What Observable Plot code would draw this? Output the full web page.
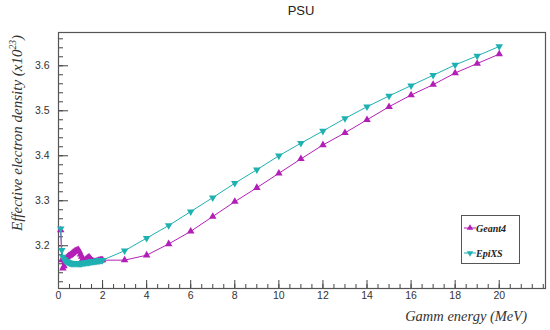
<!DOCTYPE html>
<html>
<head>
<meta charset="utf-8">
<script src="https://cdn.jsdelivr.net/npm/d3@7"></script>
<script src="https://cdn.jsdelivr.net/npm/@observablehq/plot@0.6"></script>
<style>
  html, body { margin: 0; padding: 0; background: #fff; }
  #wrap { position: relative; width: 550px; height: 330px; overflow: hidden; font-family: "Liberation Sans", Arial, sans-serif; }
  #wrap svg { position: absolute; left: 0; top: 0; }
  .title { position: absolute; left: 301px; top: 3px; transform: translateX(-50%); font-size: 13px; color: #222; }
  .ylab { position: absolute; left: 17px; top: 133px; transform: translate(-50%, -50%) rotate(-90deg); white-space: nowrap;
          font-family: "Liberation Serif", "Times New Roman", serif; font-style: italic; font-size: 15px; color: #333; }
  .ylab sup { font-size: 9.5px; vertical-align: 6px; }
  .xlab { position: absolute; right: 23px; top: 308px; white-space: nowrap;
          font-family: "Liberation Serif", "Times New Roman", serif; font-style: italic; font-size: 14.5px; color: #333; }
  .legend { position: absolute; left: 461px; top: 215px; width: 59px; height: 49px; border: 1px solid #555; background: #fff; box-sizing: border-box; }
  .legend .row { position: absolute; left: 14px; font-family: "Liberation Serif", "Times New Roman", serif; font-style: italic; font-weight: bold; font-size: 10px; color: #222; }
</style>
</head>
<body>
<div id="wrap"></div>
<script>
// ---- data ----
const geant4X = [0.10,0.15,0.20,0.25,0.30,0.35,0.40,0.45,0.50,0.55,0.60,0.65,0.70,0.75,0.80,0.85,0.90,0.95,1.00,1.05,1.10,1.15,1.20,1.25,1.30,1.35,1.40,1.45,1.50,1.55,1.60,1.65,1.70,1.75,1.80,1.85,1.90,1.95,2.00,3,4,5,6,7,8,9,10,11,12,13,14,15,16,17,18,19,20];
const geant4Y = [3.235,3.168,3.150,3.155,3.165,3.172,3.175,3.177,3.178,3.180,3.182,3.184,3.186,3.188,3.189,3.190,3.191,3.187,3.181,3.176,3.171,3.168,3.167,3.170,3.172,3.174,3.174,3.171,3.168,3.166,3.165,3.164,3.165,3.166,3.167,3.167,3.168,3.168,3.168,3.168,3.179,3.204,3.232,3.265,3.298,3.329,3.361,3.393,3.424,3.451,3.480,3.509,3.535,3.558,3.584,3.605,3.626];
const epixsX = [0.10,0.15,0.20,0.25,0.30,0.35,0.40,0.45,0.50,0.55,0.60,0.65,0.70,0.75,0.80,0.85,0.90,0.95,1.00,1.05,1.10,1.15,1.20,1.25,1.30,1.35,1.40,1.45,1.50,1.55,1.60,1.65,1.70,1.75,1.80,1.85,1.90,1.95,2.00,3,4,5,6,7,8,9,10,11,12,13,14,15,16,17,18,19,20];
const epixsY = [3.238,3.190,3.175,3.170,3.167,3.165,3.164,3.163,3.162,3.162,3.161,3.161,3.161,3.161,3.161,3.161,3.161,3.161,3.161,3.161,3.162,3.162,3.162,3.163,3.163,3.163,3.164,3.164,3.165,3.165,3.165,3.166,3.166,3.167,3.167,3.167,3.168,3.168,3.168,3.189,3.217,3.245,3.276,3.307,3.339,3.369,3.400,3.428,3.455,3.483,3.509,3.533,3.556,3.579,3.602,3.622,3.643];
const xMajorTicks = [0,2,4,6,8,10,12,14,16,18,20];
const xMinorTicks = d3.range(0, 22.01, 0.5);
const yMajorTicks = [3.2,3.3,3.4,3.5,3.6];
const yMinorTicks = d3.range(3.12, 3.671, 0.02);

const seriesNames = ["Geant4", "EpiXS"];
const seriesColors = ["#b31fb6", "#1fb0b2"];

const geant4 = geant4X.map((x, i) => ({x, y: geant4Y[i]}));
const epixs = epixsX.map((x, i) => ({x, y: epixsY[i]}));

const W = 550, H = 330;
const mL = 58, mR = 5, mT = 32, mB = 42;
const innerW = W - mL - mR, innerH = H - mT - mB;

const chart = Plot.plot({
  width: W, height: H,
  marginLeft: mL, marginRight: mR, marginTop: mT, marginBottom: mB,
  style: {fontFamily: "'Liberation Sans', Arial, sans-serif", fontSize: "10.5px", color: "#333", background: "transparent"},
  x: {domain: [0, 22.1], axis: null},
  y: {domain: [3.105, 3.674], axis: null},
  marks: [
    // ticks inside frame (ROOT style)
    Plot.tickX(xMinorTicks, {x: d => d, stroke: "#444", insetTop: innerH - 4}),
    Plot.tickX(xMajorTicks, {x: d => d, stroke: "#444", insetTop: innerH - 8}),
    Plot.tickY(yMinorTicks, {y: d => d, stroke: "#444", insetRight: innerW - 5}),
    Plot.tickY(yMajorTicks, {y: d => d, stroke: "#444", insetRight: innerW - 10}),
    Plot.axisX(xMajorTicks, {tickSize: 0, tickPadding: 3, fill: "#333", tickFormat: d => d, label: null}),
    Plot.axisY(yMajorTicks, {tickSize: 0, tickPadding: 9, fill: "#333", tickFormat: d => d.toFixed(1), label: null}),
    Plot.frame({stroke: "#555", strokeWidth: 1.2}),
    // series
    Plot.line(geant4, {x: "x", y: "y", stroke: seriesColors[0], strokeWidth: 1}),
    Plot.dot(geant4, {x: "x", y: "y", symbol: "triangle", r: 2.8, fill: seriesColors[0], stroke: "none"}),
    Plot.line(epixs, {x: "x", y: "y", stroke: seriesColors[1], strokeWidth: 1}),
    Plot.dot(epixs, {x: "x", y: "y", symbol: "triangle", rotate: 180, r: 2.8, fill: seriesColors[1], stroke: "none"})
  ]
});

const wrap = document.getElementById("wrap");
wrap.appendChild(chart);

const t = document.createElement("div"); t.className = "title"; t.textContent = "PSU"; wrap.appendChild(t);
const yl = document.createElement("div"); yl.className = "ylab"; yl.innerHTML = "Effective electron density (x10<sup>23</sup>)"; wrap.appendChild(yl);
const xl = document.createElement("div"); xl.className = "xlab"; xl.textContent = "Gamm energy (MeV)"; wrap.appendChild(xl);

// legend
const lg = document.createElement("div"); lg.className = "legend"; wrap.appendChild(lg);
const rowsY = [7, 32];
seriesNames.forEach((name, i) => {
  const sym = d3.create("svg").attr("width", 14).attr("height", 10)
    .style("position", "absolute").style("left", "1px").style("top", (rowsY[i]) + "px");
  sym.append("line").attr("x1", 1).attr("x2", 13).attr("y1", 5).attr("y2", 5).attr("stroke", seriesColors[i]);
  sym.append("path").attr("d", d3.symbol(d3.symbolTriangle, 18)())
    .attr("transform", `translate(7,5) rotate(${i === 1 ? 180 : 0})`).attr("fill", seriesColors[i]);
  lg.appendChild(sym.node());
  const r = document.createElement("div"); r.className = "row"; r.style.top = rowsY[i] + "px"; r.textContent = name;
  lg.appendChild(r);
});
</script>
</body>
</html>
